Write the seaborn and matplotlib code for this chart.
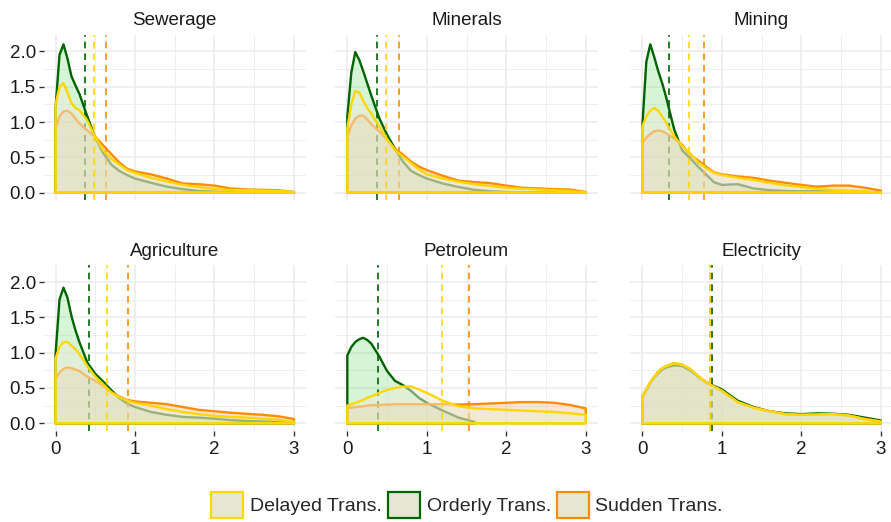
import numpy as np
import pandas as pd
import matplotlib.pyplot as plt
import seaborn as sns
from matplotlib.patches import Patch
from matplotlib.ticker import MultipleLocator

x_grid = [0, 0.05, 0.1, 0.15, 0.2, 0.25, 0.3, 0.4, 0.5, 0.6, 0.7, 0.8, 0.9, 1.0,
          1.2, 1.4, 1.6, 1.8, 2.0, 2.2, 2.4, 2.6, 2.8, 3.0]

sectors = ['Sewerage', 'Minerals', 'Mining', 'Agriculture', 'Petroleum', 'Electricity']
scenarios = ['Delayed Trans.', 'Orderly Trans.', 'Sudden Trans.']

nan = np.nan

# density values per sector and scenario
sewerage_delayed = [1.25, 1.50, 1.55, 1.42, 1.27, 1.20, 1.17, 1.02, 0.79, 0.60, 0.48, 0.40, 0.32, 0.28,
                    0.21, 0.16, 0.11, 0.08, 0.05, 0.04, 0.035, 0.03, 0.025, 0.01]
sewerage_orderly = [1.20, 1.95, 2.10, 1.90, 1.65, 1.52, 1.40, 1.08, 0.78, 0.56, 0.40, 0.31, 0.25, 0.20,
                    0.14, 0.085, 0.05, 0.025, 0.015, 0.008, 0.005, 0.003, 0.002, 0.0]
sewerage_sudden = [0.90, 1.08, 1.15, 1.16, 1.12, 1.05, 0.98, 0.88, 0.79, 0.67, 0.55, 0.43, 0.34, 0.30,
                   0.26, 0.20, 0.13, 0.12, 0.10, 0.06, 0.045, 0.04, 0.035, 0.01]

minerals_delayed = [0.91, 1.25, 1.44, 1.42, 1.30, 1.20, 1.12, 0.94, 0.76, 0.60, 0.51, 0.42, 0.33, 0.26,
                    0.20, 0.155, 0.12, 0.095, 0.07, 0.055, 0.045, 0.035, 0.025, 0.0]
minerals_orderly = [1.08, 1.70, 1.99, 1.88, 1.72, 1.55, 1.38, 1.06, 0.82, 0.62, 0.44, 0.31, 0.25, 0.20,
                    0.13, 0.08, 0.04, 0.02, 0.01, 0.005, 0.003, 0.002, 0.001, 0.0]
minerals_sudden = [0.79, 0.95, 1.05, 1.09, 1.09, 1.04, 0.97, 0.87, 0.75, 0.62, 0.54, 0.44, 0.37, 0.32,
                   0.24, 0.17, 0.15, 0.135, 0.10, 0.07, 0.06, 0.05, 0.045, 0.01]

mining_delayed = [0.94, 1.08, 1.16, 1.20, 1.16, 1.08, 0.99, 0.80, 0.66, 0.56, 0.43, 0.35, 0.28, 0.25,
                  0.21, 0.18, 0.14, 0.105, 0.08, 0.055, 0.04, 0.03, 0.02, 0.0]
mining_orderly = [0.94, 1.85, 2.10, 1.92, 1.72, 1.55, 1.35, 0.90, 0.60, 0.49, 0.37, 0.26, 0.15, 0.11,
                  0.12, 0.06, 0.035, 0.025, 0.02, 0.025, 0.03, 0.015, 0.005, 0.0]
mining_sudden = [0.70, 0.78, 0.83, 0.87, 0.88, 0.87, 0.84, 0.77, 0.68, 0.53, 0.46, 0.37, 0.29, 0.26,
                 0.23, 0.21, 0.17, 0.14, 0.11, 0.085, 0.10, 0.10, 0.07, 0.03]

agriculture_delayed = [0.92, 1.08, 1.15, 1.15, 1.10, 1.05, 0.98, 0.81, 0.66, 0.55, 0.44, 0.37, 0.32, 0.29,
                       0.25, 0.20, 0.16, 0.13, 0.105, 0.09, 0.08, 0.065, 0.05, 0.02]
agriculture_orderly = [0.97, 1.75, 1.92, 1.78, 1.52, 1.32, 1.15, 0.86, 0.70, 0.59, 0.47, 0.36, 0.28, 0.23,
                       0.16, 0.12, 0.09, 0.08, 0.065, 0.045, 0.033, 0.025, 0.02, 0.01]
agriculture_sudden = [0.63, 0.72, 0.77, 0.79, 0.78, 0.76, 0.74, 0.66, 0.60, 0.53, 0.44, 0.38, 0.33, 0.31,
                      0.29, 0.27, 0.23, 0.19, 0.17, 0.15, 0.135, 0.12, 0.10, 0.06]

petroleum_delayed = [0.25, 0.27, 0.29, 0.31, 0.33, 0.36, 0.38, 0.43, 0.47, 0.50, 0.52, 0.52, 0.48, 0.43,
                     0.32, 0.24, 0.21, 0.20, 0.19, 0.18, 0.17, 0.16, 0.14, 0.12]
petroleum_orderly = [0.96, 1.08, 1.15, 1.19, 1.21, 1.18, 1.13, 0.95, 0.74, 0.60, 0.54, 0.46, 0.36, 0.29,
                     0.18, 0.08, 0.02, nan, nan, nan, nan, nan, nan, nan]
petroleum_sudden = [0.21, 0.22, 0.23, 0.235, 0.24, 0.25, 0.255, 0.26, 0.265, 0.27, 0.27, 0.27, 0.27, 0.27,
                    0.27, 0.265, 0.27, 0.28, 0.29, 0.30, 0.30, 0.29, 0.26, 0.21]

electricity_delayed = [0.38, 0.48, 0.58, 0.66, 0.73, 0.78, 0.81, 0.85, 0.83, 0.77, 0.67, 0.58, 0.52, 0.46,
                       0.30, 0.22, 0.17, 0.13, 0.12, 0.125, 0.13, 0.11, 0.06, 0.025]
electricity_orderly = [0.37, 0.47, 0.57, 0.65, 0.71, 0.76, 0.79, 0.82, 0.81, 0.75, 0.66, 0.58, 0.53, 0.48,
                       0.32, 0.23, 0.17, 0.14, 0.13, 0.14, 0.135, 0.12, 0.08, 0.04]
electricity_sudden = [0.38, 0.48, 0.58, 0.66, 0.73, 0.78, 0.81, 0.85, 0.83, 0.77, 0.67, 0.58, 0.52, 0.46,
                      0.30, 0.22, 0.17, 0.13, 0.12, 0.125, 0.13, 0.11, 0.06, 0.025]

# dashed reference lines (one per sector)
delayed_means = [0.48, 0.487, 0.587, 0.644, 1.195, 0.852]
orderly_means = [0.37, 0.377, 0.336, 0.425, 0.39, 0.882]
sudden_means = [0.635, 0.654, 0.776, 0.916, 1.53, 0.852]

curves = {
    ('Sewerage', 'Delayed Trans.'): sewerage_delayed,
    ('Sewerage', 'Orderly Trans.'): sewerage_orderly,
    ('Sewerage', 'Sudden Trans.'): sewerage_sudden,
    ('Minerals', 'Delayed Trans.'): minerals_delayed,
    ('Minerals', 'Orderly Trans.'): minerals_orderly,
    ('Minerals', 'Sudden Trans.'): minerals_sudden,
    ('Mining', 'Delayed Trans.'): mining_delayed,
    ('Mining', 'Orderly Trans.'): mining_orderly,
    ('Mining', 'Sudden Trans.'): mining_sudden,
    ('Agriculture', 'Delayed Trans.'): agriculture_delayed,
    ('Agriculture', 'Orderly Trans.'): agriculture_orderly,
    ('Agriculture', 'Sudden Trans.'): agriculture_sudden,
    ('Petroleum', 'Delayed Trans.'): petroleum_delayed,
    ('Petroleum', 'Orderly Trans.'): petroleum_orderly,
    ('Petroleum', 'Sudden Trans.'): petroleum_sudden,
    ('Electricity', 'Delayed Trans.'): electricity_delayed,
    ('Electricity', 'Orderly Trans.'): electricity_orderly,
    ('Electricity', 'Sudden Trans.'): electricity_sudden,
}

rows = []
for (sector, scen), vals in curves.items():
    for x, y in zip(x_grid, vals):
        rows.append({'sector': sector, 'scenario': scen, 'x': x, 'density': y})
df = pd.DataFrame(rows).dropna()

means = pd.DataFrame({'sector': sectors,
                      'Delayed Trans.': delayed_means,
                      'Orderly Trans.': orderly_means,
                      'Sudden Trans.': sudden_means})

line_colors = {'Delayed Trans.': '#FFD700', 'Orderly Trans.': '#006400', 'Sudden Trans.': '#FF8C00'}
fill_colors = {'Delayed Trans.': ('#EBEBD7', 0.5), 'Orderly Trans.': ('#78DC78', 0.3),
               'Sudden Trans.': ('#EEAC7A', 0.3)}
draw_order = ['Orderly Trans.', 'Sudden Trans.', 'Delayed Trans.']

sns.set_theme(style='whitegrid')
plt.rcParams['font.family'] = ['Liberation Sans', 'DejaVu Sans']

fig = plt.figure(figsize=(8.91, 5.22), dpi=100)
W, H = 891, 522
col_left = [43.6, 335.4, 630.4]
row_bottom = [200.2, 430.8]
pw, ph = 262.3, 165.5

for i, sector in enumerate(sectors):
    r, c = divmod(i, 3)
    ax = fig.add_axes([col_left[c] / W, 1 - row_bottom[r] / H, pw / W, ph / H])
    ax.set_axisbelow(True)
    for k, scen in enumerate(draw_order):
        sub = df[(df.sector == sector) & (df.scenario == scen)]
        xs = sub['x'].tolist()
        ys = sub['density'].tolist()
        fc, fa = fill_colors[scen]
        z = 2 + 3 * k
        ax.fill_between(xs, 0, ys, color=fc, alpha=fa, lw=0, zorder=z)
        # outline around the whole area, as in geom_density
        ox = [xs[0]] + xs + [xs[-1], xs[0]]
        oy = [0] + ys + [0, 0]
        sns.lineplot(x=ox, y=oy, sort=False, estimator=None, ax=ax,
                     color=line_colors[scen], lw=1.7, legend=False, zorder=z + 1)
        ax.axvline(means.loc[i, scen], color=line_colors[scen], lw=1.2,
                   dashes=(4, 3), zorder=z + 2)

    ax.set_xlim(-0.15, 3.15)
    ax.set_ylim(-0.1065, 2.2365)
    ax.set_xticks([0, 1, 2, 3])
    ax.set_yticks([0, 0.5, 1.0, 1.5, 2.0])
    ax.set_yticklabels(['0.0', '0.5', '1.0', '1.5', '2.0'])
    ax.xaxis.set_minor_locator(MultipleLocator(0.5))
    ax.yaxis.set_minor_locator(MultipleLocator(0.25))
    ax.grid(which='major', color='#EBEBEB', lw=1.1)
    ax.grid(which='minor', color='#EBEBEB', lw=0.6)
    ax.set_facecolor('white')
    for s in ax.spines.values():
        s.set_visible(False)
    ax.set_xlabel('')
    ax.set_ylabel('')
    ax.tick_params(which='minor', length=0)
    ax.tick_params(which='major', length=3.5, width=1.0, color='#333333',
                   labelsize=13.5, labelcolor='#1A1A1A', pad=2)
    ax.tick_params(axis='x', pad=3.5)
    ax.tick_params(axis='y', left=(c == 0), labelleft=(c == 0))
    ax.tick_params(axis='x', bottom=(r == 1), labelbottom=(r == 1))
    ax.set_title(sector, fontsize=13.5, color='#1A1A1A', pad=7)

handles = [Patch(facecolor='#E6E7D2', edgecolor=line_colors[s], lw=1.6, label=s) for s in scenarios]
fig.legend(handles=handles, loc='center', bbox_to_anchor=(467 / W, 1 - 505 / H), ncol=3,
           frameon=False, fontsize=14, handlelength=1.65, handleheight=1.65,
           handletextpad=0.35, columnspacing=0.3)

fig.savefig('out.png', dpi=100, facecolor='white')
